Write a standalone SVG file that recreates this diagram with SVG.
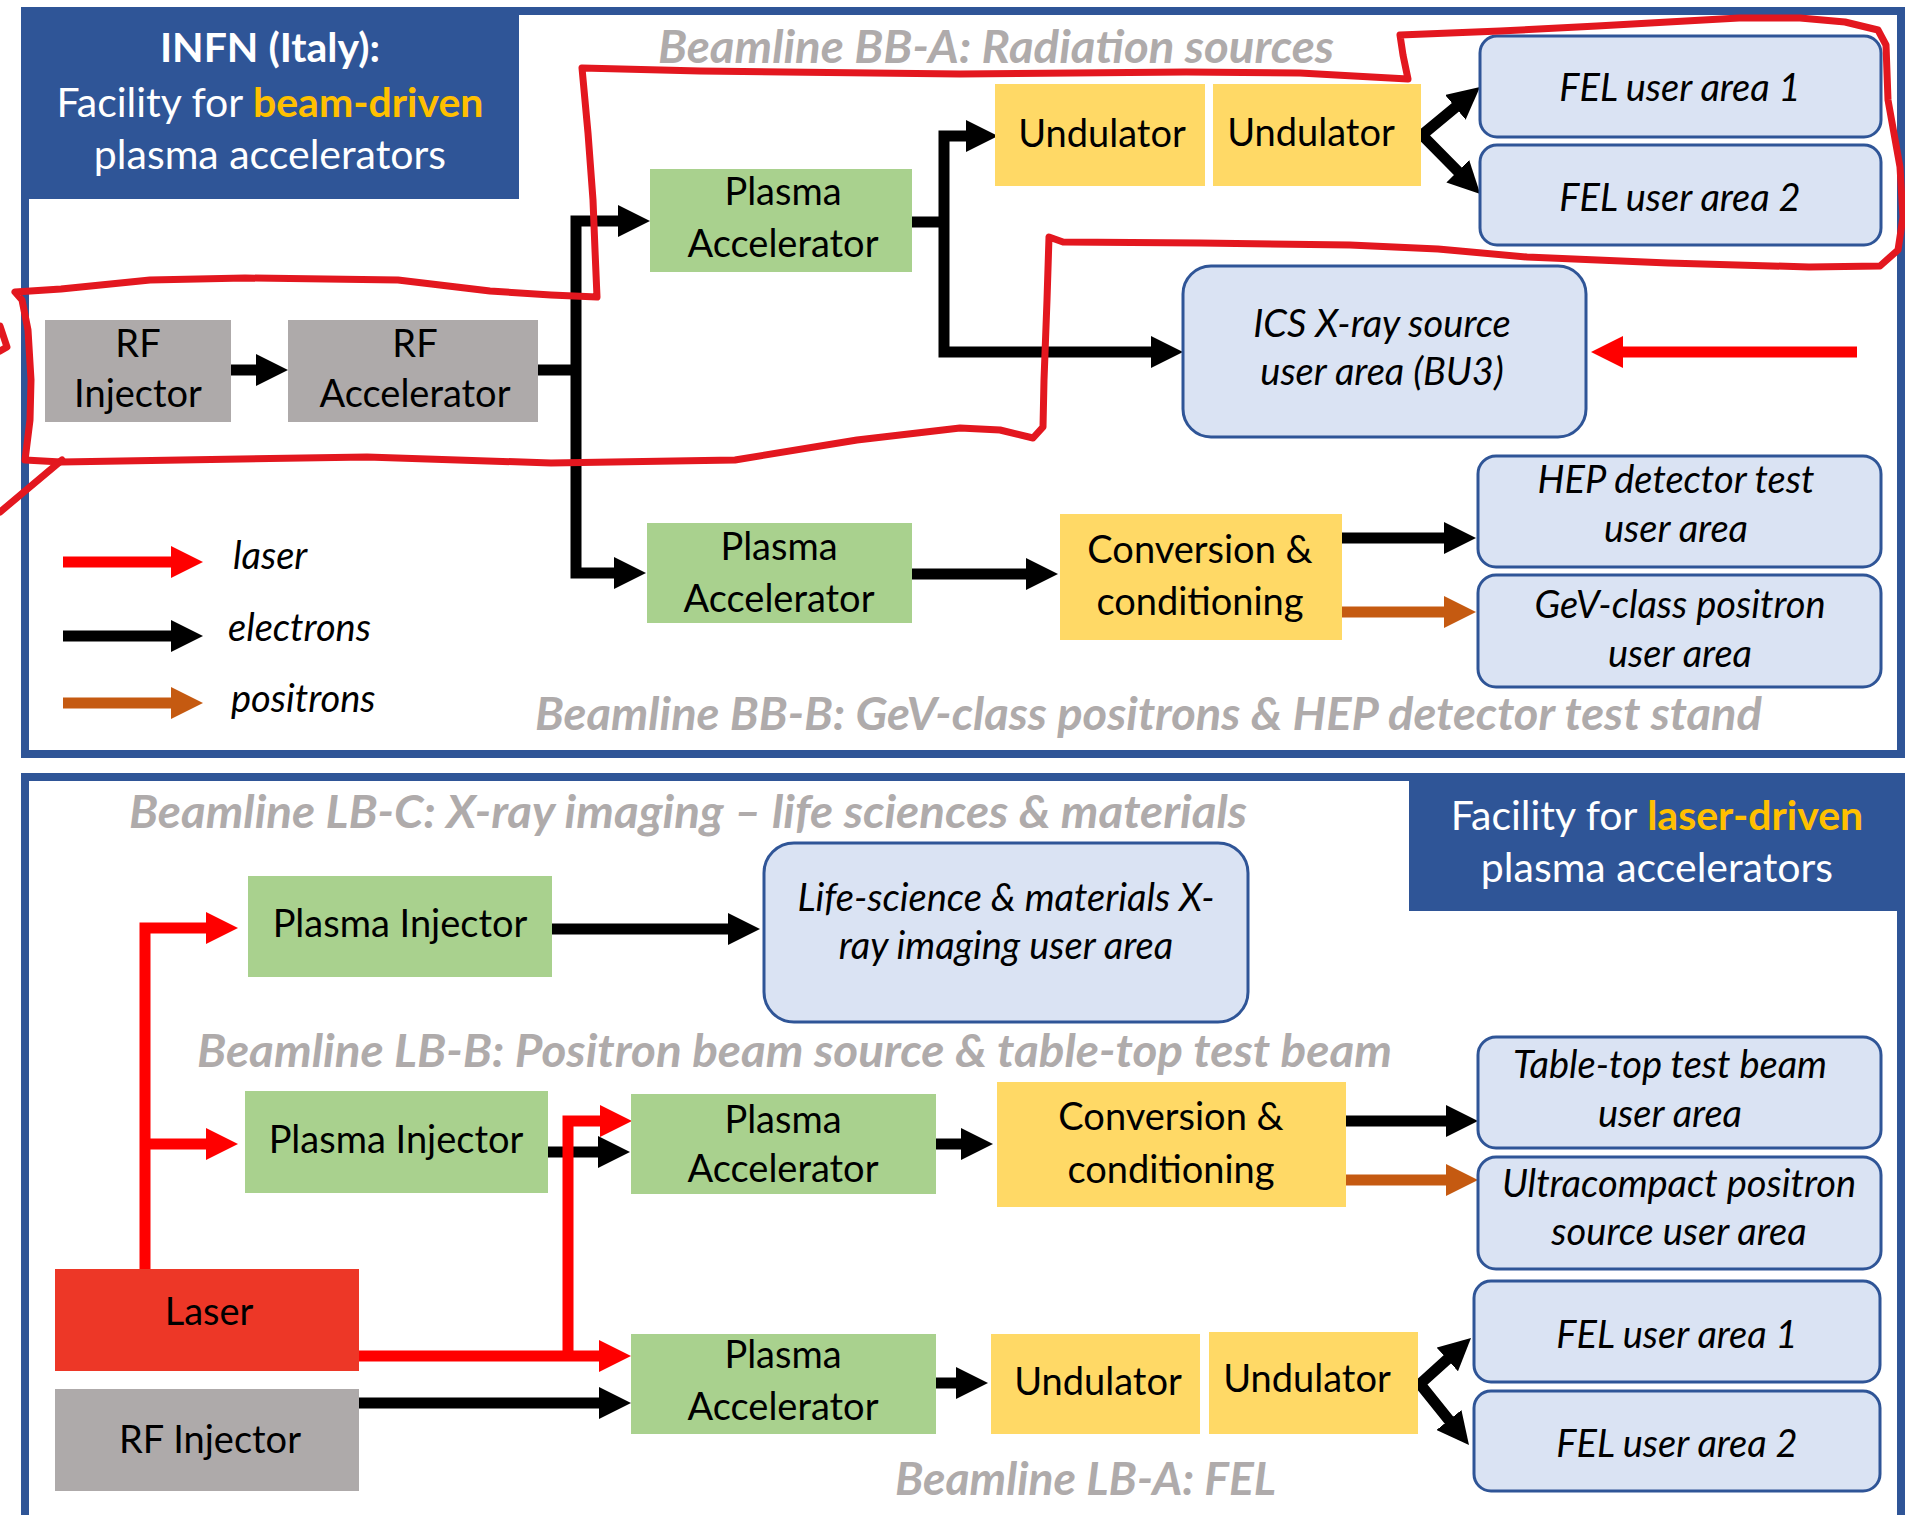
<svg xmlns="http://www.w3.org/2000/svg" width="1905" height="1515" viewBox="0 0 1905 1515">
<style>
.panel{fill:none;stroke:#2F5597;stroke-width:8}
.tbox{fill:#2F5597}
.green{fill:#A9D18E}
.gray{fill:#AEAAAA}
.yel{fill:#FFD966}
.laser{fill:#ED3727}
.user{fill:#DAE3F3;stroke:#2F5597;stroke-width:3}
text{font-family:Lato,"Liberation Sans",sans-serif}
.lbl{font-size:38px;text-anchor:middle;fill:#000}
.it{font-style:italic}
.bl{font-size:46px;font-weight:bold;font-style:italic;fill:#AFABAB}
.tt{font-size:41px;text-anchor:middle;fill:#fff}
.hl{fill:#FFC000;font-weight:bold}
.leg{font-size:38px;font-style:italic;fill:#000}
.e{fill:none;stroke:#000;stroke-width:11;stroke-linejoin:miter}
.r{fill:none;stroke:#FF0000;stroke-width:11;stroke-linejoin:miter}
.o{fill:none;stroke:#C55A11;stroke-width:11}
.ae{marker-end:url(#hk)}
.as{marker-start:url(#hk)}
.ar{marker-end:url(#hr)}
.ars{marker-start:url(#hr)}
.ao{marker-end:url(#ho)}
.scr{fill:none;stroke:#E3171F;stroke-width:7;stroke-linecap:round;stroke-linejoin:round}
</style>
<defs>
<marker id="hk" markerUnits="userSpaceOnUse" viewBox="0 0 32 32" markerWidth="32" markerHeight="32" refX="6" refY="16" orient="auto-start-reverse"><path d="M0,0 L32,16 L0,32 Z" fill="#000"/></marker>
<marker id="hr" markerUnits="userSpaceOnUse" viewBox="0 0 32 32" markerWidth="32" markerHeight="32" refX="6" refY="16" orient="auto-start-reverse"><path d="M0,0 L32,16 L0,32 Z" fill="#FF0000"/></marker>
<marker id="ho" markerUnits="userSpaceOnUse" viewBox="0 0 32 32" markerWidth="32" markerHeight="32" refX="6" refY="16" orient="auto-start-reverse"><path d="M0,0 L32,16 L0,32 Z" fill="#C55A11"/></marker>
</defs>
<rect width="1905" height="1515" fill="#fff"/>

<!-- Top panel -->
<g id="panel-top">
<rect class="panel" x="25" y="11" width="1876" height="743"/>
<rect class="tbox" x="21" y="8" width="498" height="191"/>
<text class="tt" x="270" y="62" font-weight="bold">INFN (Italy):</text>
<text class="tt" x="270" y="117">Facility for <tspan class="hl">beam-driven</tspan></text>
<text class="tt" x="270" y="169">plasma accelerators</text>
</g>
<g id="label-bba"><text class="bl" x="658" y="63" textLength="676" lengthAdjust="spacingAndGlyphs">Beamline BB-A: Radiation sources</text></g>
<g id="label-bbb"><text class="bl" x="535" y="730" textLength="1227" lengthAdjust="spacingAndGlyphs">Beamline BB-B: GeV-class positrons &amp; HEP detector test stand</text></g>

<!-- Bottom panel -->
<g id="panel-bottom">
<path class="panel" d="M25,1515 V777 H1901 V1515"/>
<rect class="tbox" x="1409" y="773" width="496" height="138"/>
<text class="tt" x="1657" y="830">Facility for <tspan class="hl">laser-driven</tspan></text>
<text class="tt" x="1657" y="882">plasma accelerators</text>
</g>
<g id="label-lbc"><text class="bl" x="129" y="828" textLength="1118" lengthAdjust="spacingAndGlyphs">Beamline LB-C: X-ray imaging – life sciences &amp; materials</text></g>
<g id="label-lbb"><text class="bl" x="197" y="1067" textLength="1195" lengthAdjust="spacingAndGlyphs">Beamline LB-B: Positron beam source &amp; table-top test beam</text></g>
<g id="label-lba"><text class="bl" x="895" y="1495" textLength="381" lengthAdjust="spacingAndGlyphs">Beamline LB-A: FEL</text></g>

<!-- Connectors -->
<g id="connectors">
<path class="e ae" d="M231,370 H262"/>
<path class="e" d="M538,370 H576"/>
<path class="e as ae" d="M624,221 H576 V573 H620"/>
<path class="e" d="M911,222 H944"/>
<path class="e as ae" d="M972,136 H944 V352 H1157"/>
<path class="e as ae" d="M1460,103.5 L1422,135 L1462,175.5"/>
<path class="r ar" d="M1857,352 H1617"/>
<path class="e ae" d="M911,574 H1032"/>
<path class="e ae" d="M1342,538 H1450"/>
<path class="o ao" d="M1342,612 H1450"/>
<path class="r ar" d="M63,562 H177"/>
<path class="e ae" d="M63,636 H177"/>
<path class="o ao" d="M63,703 H177"/>

<path class="e ae" d="M552,929 H734"/>
<path class="e ae" d="M548,1152 H604"/>
<path class="e ae" d="M359,1403 H605"/>
<path class="e ae" d="M935,1144 H967"/>
<path class="e ae" d="M1346,1121 H1452"/>
<path class="o ao" d="M1346,1180 H1452"/>
<path class="e ae" d="M935,1383 H962"/>
<path class="e as ae" d="M1451.7,1355.4 L1420,1384 L1452.7,1424.7"/>
<path class="r ars" d="M212,928 H145 V1269"/>
<path class="r ar" d="M145,1144 H212"/>
<path class="r ar" d="M359,1356 H605"/>
<path class="r ar" d="M568,1356 V1121 H606"/>
</g>

<!-- Nodes top -->
<g id="rf-injector"><rect class="gray" x="45" y="320" width="186" height="102"/><text class="lbl" x="138" y="357">RF</text><text class="lbl" x="138" y="407">Injector</text></g>
<g id="rf-accelerator"><rect class="gray" x="288" y="320" width="250" height="102"/><text class="lbl" x="415" y="357">RF</text><text class="lbl" x="415" y="407">Accelerator</text></g>
<g id="plasma-acc-bba"><rect class="green" x="650" y="169" width="262" height="103"/><text class="lbl" x="783" y="205">Plasma</text><text class="lbl" x="783" y="257">Accelerator</text></g>
<g id="undulator-bba-1"><rect class="yel" x="995" y="84" width="210" height="102"/><text class="lbl" x="1102" y="147">Undulator</text></g>
<g id="undulator-bba-2"><rect class="yel" x="1213" y="84" width="208" height="102"/><text class="lbl" x="1311" y="146">Undulator</text></g>
<g id="fel-bba-1"><rect class="user" x="1480" y="36" width="401" height="101" rx="17"/><text class="lbl it" x="1680" y="101">FEL user area 1</text></g>
<g id="fel-bba-2"><rect class="user" x="1480" y="145" width="401" height="100" rx="17"/><text class="lbl it" x="1680" y="211">FEL user area 2</text></g>
<g id="ics"><rect class="user" x="1183" y="266" width="403" height="171" rx="28"/><text class="lbl it" x="1382" y="337">ICS X-ray source</text><text class="lbl it" x="1382" y="385">user area (BU3)</text></g>
<g id="plasma-acc-bbb"><rect class="green" x="647" y="523" width="265" height="100"/><text class="lbl" x="779" y="560">Plasma</text><text class="lbl" x="779" y="612">Accelerator</text></g>
<g id="conversion-bbb"><rect class="yel" x="1060" y="514" width="282" height="126"/><text class="lbl" x="1200" y="563">Conversion &amp;</text><text class="lbl" x="1200" y="615">conditioning</text></g>
<g id="hep"><rect class="user" x="1478" y="456" width="403" height="111" rx="18"/><text class="lbl it" x="1676" y="493">HEP detector test</text><text class="lbl it" x="1676" y="542">user area</text></g>
<g id="gev"><rect class="user" x="1478" y="575" width="403" height="112" rx="18"/><text class="lbl it" x="1680" y="618">GeV-class positron</text><text class="lbl it" x="1680" y="667">user area</text></g>
<g id="legend"><text class="leg" x="233" y="569">laser</text><text class="leg" x="228" y="641">electrons</text><text class="leg" x="231" y="712">positrons</text></g>

<!-- Nodes bottom -->
<g id="plasma-injector-lbc"><rect class="green" x="248" y="876" width="304" height="101"/><text class="lbl" x="400" y="937">Plasma Injector</text></g>
<g id="lifescience"><rect class="user" x="764" y="843" width="484" height="179" rx="30"/><text class="lbl it" x="1006" y="911">Life-science &amp; materials X-</text><text class="lbl it" x="1006" y="959">ray imaging user area</text></g>
<g id="plasma-injector-lbb"><rect class="green" x="245" y="1091" width="303" height="102"/><text class="lbl" x="396" y="1153">Plasma Injector</text></g>
<g id="plasma-acc-lbb"><rect class="green" x="631" y="1094" width="305" height="100"/><text class="lbl" x="783" y="1133">Plasma</text><text class="lbl" x="783" y="1182">Accelerator</text></g>
<g id="conversion-lbb"><rect class="yel" x="997" y="1082" width="349" height="125"/><text class="lbl" x="1171" y="1130">Conversion &amp;</text><text class="lbl" x="1171" y="1183">conditioning</text></g>
<g id="tabletop"><rect class="user" x="1478" y="1037" width="403" height="111" rx="18"/><text class="lbl it" x="1670" y="1078">Table-top test beam</text><text class="lbl it" x="1670" y="1127">user area</text></g>
<g id="ultracompact"><rect class="user" x="1478" y="1157" width="403" height="112" rx="18"/><text class="lbl it" x="1679" y="1197">Ultracompact positron</text><text class="lbl it" x="1679" y="1245">source user area</text></g>
<g id="laser"><rect class="laser" x="55" y="1269" width="304" height="102"/><text class="lbl" x="209" y="1325">Laser</text></g>
<g id="rf-injector-lba"><rect class="gray" x="55" y="1389" width="304" height="102"/><text class="lbl" x="210" y="1453">RF Injector</text></g>
<g id="plasma-acc-lba"><rect class="green" x="631" y="1334" width="305" height="100"/><text class="lbl" x="783" y="1368">Plasma</text><text class="lbl" x="783" y="1420">Accelerator</text></g>
<g id="undulator-lba-1"><rect class="yel" x="991" y="1334" width="209" height="100"/><text class="lbl" x="1098" y="1395">Undulator</text></g>
<g id="undulator-lba-2"><rect class="yel" x="1209" y="1332" width="209" height="102"/><text class="lbl" x="1307" y="1392">Undulator</text></g>
<g id="fel-lba-1"><rect class="user" x="1474" y="1281" width="406" height="101" rx="17"/><text class="lbl it" x="1677" y="1348">FEL user area 1</text></g>
<g id="fel-lba-2"><rect class="user" x="1474" y="1391" width="406" height="100" rx="17"/><text class="lbl it" x="1677" y="1457">FEL user area 2</text></g>

<!-- Hand-drawn red annotation -->
<g id="annotation">
<path class="scr" d="M15,292 L61,289 L150,280 L245,278 L398,280 L490,291 L551,295 L597,297 L595,250 L593,200 L588,133 L582,68 L700,71 L960,74 L1186,72 L1300,73 L1408,79 L1403,55 L1400,35 L1500,31 L1597,26 L1739,18 L1800,18 L1845,22 L1878,30 L1886,45 L1888,100 L1900,167 L1903,217 L1898,250 L1880,266 L1809,267 L1668,263 L1527,257 L1438,249 L1350,245 L1200,243 L1063,242 L1049,237 L1047,300 L1044,380 L1043,427 L1033,438 L1000,430 L960,428 L857,440 L735,460 L551,463 L367,457 L61,462 L25,460 L30,420 L31,380 L28,330 L22,300 Z"/>
<path class="scr" d="M62,460 L0,512"/>
<path class="scr" d="M0,326 L7,347 L0,351"/>
</g>
</svg>
